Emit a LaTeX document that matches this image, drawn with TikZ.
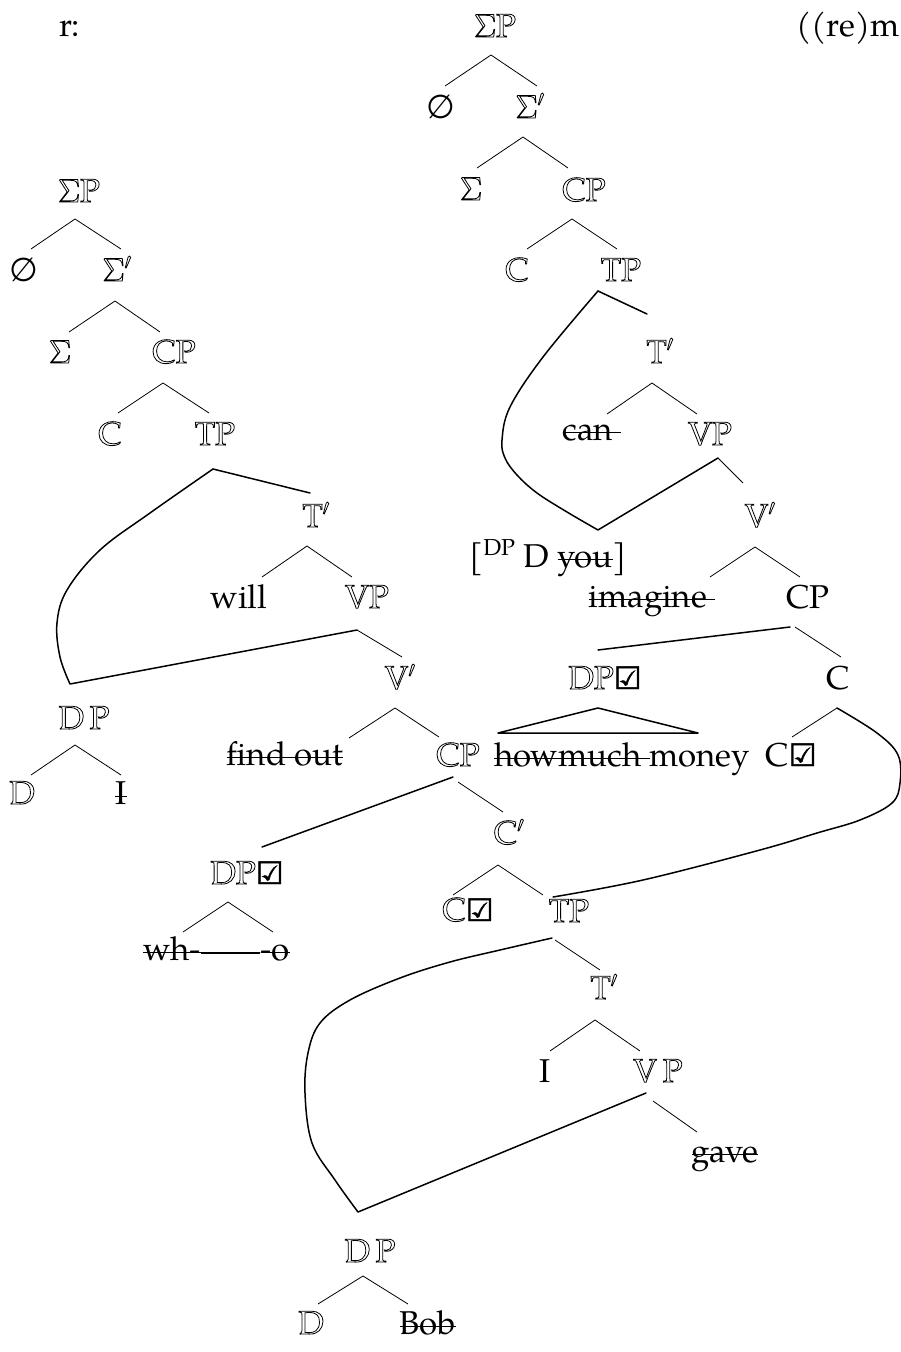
\RequirePackage{fix-cm}
\documentclass[tikz,border=0pt]{standalone}
\usepackage{fontspec}
\setmainfont{TeX Gyre Pagella}
\newfontfamily\dvs{DejaVu Sans}
\newfontfamily\dvsb[FakeBold=1.5]{DejaVu Sans}
\usetikzlibrary{calc}
\newsavebox\stkbox
\newcommand\stk[1]{\sbox\stkbox{#1}\rlap{\rule[0.21em]{\wd\stkbox}{1.3pt}}\usebox\stkbox}
\newcommand\ol[1]{\special{pdf:literal direct 1 Tr 0.8 w}#1\special{pdf:literal direct 0 Tr}}
\newcommand\chk{{\dvsb\fontsize{31}{31}\selectfont ☑}}
\newcommand\nul{{\dvs ∅}}
\begin{document}
\begin{tikzpicture}[x=1pt,y=-1pt,
  every node/.style={inner sep=0pt,anchor=base,font=\fontsize{33}{40}\selectfont},
  br/.style={line width=0.8pt},
  mv/.style={line width=1.5pt,line join=round,line cap=round},
  stkline/.style={line width=1.3pt}]
\useasboundingbox (0,0) rectangle (900,1352);

% header
\node[anchor=base west] (r) at (59,36) {r:};
\node[anchor=base east] (re) at (900,36) {((re)m};

% ---------- right tree ----------
\node (R0) at (495,37) {\ol{$\Sigma$P}};
\node (Rnull) at (441,118) {\nul};
\node (Rs1) at (530,118) {\ol{$\Sigma'$}};
\node (Rsig) at (471,200) {\ol{$\Sigma$}};
\node (Rcp) at (584,201) {\ol{CP}};
\node (Rc) at (517,281) {\ol{C}};
\node (Rtp) at (621,281) {\ol{TP}};
\node (Rtb) at (660,363) {\ol{T$'$}};
\node (Rcan) at (592,440) {\stk{can\ }};
\node (Rvp) at (710,445) {\ol{VP}};
\node (Rvb) at (760,527) {\ol{V$'$}};
\node (Ryou) at (548,567) {[\textsuperscript{DP} D \stk{you}]};
\node (Rimag) at (652,607) {\stk{imagine\ }};
\node (Rcp2) at (808,608) {CP};
\node (Rdp) at (605,689) {\ol{DP}\chk};
\node (Rc2) at (838,689) {C};
\node (Rmoney) at (622,766) {\stk{howmuch\ }money};
\node (Rcc) at (791,766) {C\chk};

\coordinate (R0-a) at (491,55);
\coordinate (Rnull-t) at (445,86);
\coordinate (Rs1-t) at (537,86);
\coordinate (Rs1-a) at (523,137);
\coordinate (Rsig-t) at (477,168);
\coordinate (Rcp-t) at (568,168);
\coordinate (Rcp-a) at (572,219);
\coordinate (Rc-t) at (527,249);
\coordinate (Rtp-t) at (617,249);
\coordinate (Rtp-a) at (598,291);
\coordinate (Rtb-t) at (647,314);
\coordinate (Rtb-a) at (652,383);
\coordinate (Rcan-t) at (607,414);
\coordinate (Rvp-t) at (697,414);
\coordinate (Rvp-a) at (718,458);
\coordinate (Rvb-t) at (743,483);
\coordinate (Rvb-a) at (755,547);
\coordinate (Ryou-t) at (598,530);
\coordinate (Rimag-t) at (710,577);
\coordinate (Rcp2-t) at (800,577);
\coordinate (Rcp2-a) at (790,627);
\coordinate (Rcp2-b) at (795,627);
\coordinate (Rdp-t) at (598,650);
\coordinate (Rdp-a) at (598,708);
\coordinate (Rc2-t) at (841,657);
\coordinate (Rc2-a) at (837,708);
\coordinate (Rmoney-l) at (498,733);
\coordinate (Rmoney-r) at (698,733);
\coordinate (Rcc-t) at (792,737);

\draw[br] (R0-a) -- (Rnull-t);
\draw[br] (R0-a) -- (Rs1-t);
\draw[br] (Rs1-a) -- (Rsig-t);
\draw[br] (Rs1-a) -- (Rcp-t);
\draw[br] (Rcp-a) -- (Rc-t);
\draw[br] (Rcp-a) -- (Rtp-t);
\draw[mv] (Rtp-a) -- (Rtb-t);
\draw[br] (Rtb-a) -- (Rcan-t);
\draw[br] (Rtb-a) -- (Rvp-t);
\draw[br] (Rvp-a) -- (Rvb-t);
\draw[mv] plot[smooth,tension=0.6] coordinates {(Rtp-a) (543,357) (510,407) (502,440) (505,458) (517,475) (537,493) (567,512) (Ryou-t)} -- (Rvp-a);
\draw[br] (Rvb-a) -- (Rimag-t);
\draw[br] (Rvb-a) -- (Rcp2-t);
\draw[mv] (Rcp2-a) -- (Rdp-t);
\draw[br] (Rcp2-b) -- (Rc2-t);
\draw[mv] (Rdp-a) -- (Rmoney-r) -- (Rmoney-l) -- cycle;
\draw[br] (Rc2-a) -- (Rcc-t);

% ---------- left tree ----------
\node (L0) at (79,202) {\ol{$\Sigma$P}};
\node (Lnull) at (24,281) {\nul};
\node (Ls1) at (117,281) {\ol{$\Sigma'$}};
\node (Lsig) at (60,363) {\ol{$\Sigma$}};
\node (Lcp) at (174,363) {\ol{CP}};
\node (Lc) at (110,445) {\ol{C}};
\node (Ltp) at (215,445) {\ol{TP}};
\node (Ltb) at (316,527) {\ol{T$'$}};
\node (Lwill) at (239,608) {will};
\node (Lvp) at (367,608) {\ol{VP}};
\node (Lvb) at (400,689) {\ol{V$'$}};
\node (Ldp) at (84,729) {\ol{D\,P}};
\node (Ld) at (22,804) {\ol{D}};
\node (Li) at (121,804) {\stk{I}};
\node (Lfind) at (285,765) {\stk{find out}};
\node (Lcp2) at (458,766) {\ol{CP}};
\node (Lcb) at (509,844) {\ol{C$'$}};
\node (Ldpc) at (247,884) {\ol{DP}\chk};
\node (Lwh) at (172,960) {\stk{wh-}};
\node (Lo) at (275,960) {\stk{-o}};
\node (Lcc) at (468,921) {\ol{C}\chk};
\node (Ltp2) at (569,922) {\ol{TP}};
\node (Ltb2) at (604,999) {\ol{T$'$}};
\node (LI) at (545,1082) {I};
\node (Lvp2) at (658,1082) {\ol{V\,P}};
\node (Lgave) at (725,1162) {\stk{gave}};
\node (Ldp2) at (370,1262) {\ol{D\,P}};
\node (Ld2) at (311,1334) {\ol{D}};
\node (Lbob) at (428,1334) {\stk{Bob}};

\coordinate (L0-a) at (75,219);
\coordinate (Lnull-t) at (31,249);
\coordinate (Ls1-t) at (121,249);
\coordinate (Ls1-a) at (115,301);
\coordinate (Lsig-t) at (69,332);
\coordinate (Lcp-t) at (160,332);
\coordinate (Lcp-a) at (163,383);
\coordinate (Lc-t) at (118,413);
\coordinate (Ltp-t) at (209,413);
\coordinate (Ltp-a) at (213,469);
\coordinate (Ltb-t) at (310,493);
\coordinate (Ltb-a) at (307,546);
\coordinate (Lwill-t) at (262,577);
\coordinate (Lvp-t) at (352,577);
\coordinate (Lvp-a) at (357,630);
\coordinate (Lvb-t) at (402,657);
\coordinate (Lvb-a) at (395,708);
\coordinate (Ldp-t) at (70,684);
\coordinate (Ldp-a) at (75,745);
\coordinate (Ld-t) at (31,775);
\coordinate (Li-t) at (121,775);
\coordinate (Lfind-t) at (349,738);
\coordinate (Lcp2-t) at (439,737);
\coordinate (Lcp2-a) at (453,777);
\coordinate (Lcp2-b) at (458,782);
\coordinate (Lcb-t) at (503,812);
\coordinate (Lcb-a) at (498,865);
\coordinate (Ldpc-t) at (262,847);
\coordinate (Ldpc-a) at (228,902);
\coordinate (Lwh-t) at (183,932);
\coordinate (Lo-t) at (273,932);
\coordinate (Lcc-t) at (453,895);
\coordinate (Ltp2-t) at (543,895);
\coordinate (Ltp2-m) at (553,897);
\coordinate (Ltp2-a) at (552,938);
\coordinate (Ltp2-b) at (555,940);
\coordinate (Ltb2-t) at (600,970);
\coordinate (Ltb2-a) at (595,1020);
\coordinate (LI-t) at (550,1051);
\coordinate (Lvp2-t) at (640,1051);
\coordinate (Lvp2-a) at (646,1093);
\coordinate (Lvp2-b) at (653,1101);
\coordinate (Lgave-t) at (697,1132);
\coordinate (Ldp2-t) at (358,1212);
\coordinate (Ldp2-a) at (363,1276);
\coordinate (Ld2-t) at (318,1304);
\coordinate (Lbob-t) at (408,1304);

\draw[br] (L0-a) -- (Lnull-t);
\draw[br] (L0-a) -- (Ls1-t);
\draw[br] (Ls1-a) -- (Lsig-t);
\draw[br] (Ls1-a) -- (Lcp-t);
\draw[br] (Lcp-a) -- (Lc-t);
\draw[br] (Lcp-a) -- (Ltp-t);
\draw[mv] (Ltp-a) -- (Ltb-t);
\draw[mv] plot[smooth,tension=0.6] coordinates {(Ltp-a) (150,513) (100,550) (67,590) (57,623) (60,657) (Ldp-t)} -- (Lvp-a);
\draw[br] (Ltb-a) -- (Lwill-t);
\draw[br] (Ltb-a) -- (Lvp-t);
\draw[br] (Lvp-a) -- (Lvb-t);
\draw[br] (Lvb-a) -- (Lfind-t);
\draw[br] (Lvb-a) -- (Lcp2-t);
\draw[br] (Ldp-a) -- (Ld-t);
\draw[br] (Ldp-a) -- (Li-t);
\draw[mv] (Lcp2-a) -- (Ldpc-t);
\draw[br] (Lcp2-b) -- (Lcb-t);
\draw[br] (Ldpc-a) -- (Lwh-t);
\draw[br] (Ldpc-a) -- (Lo-t);
\draw[stkline] ([yshift=6.9pt]Lwh.base east) -- ([yshift=6.9pt]Lo.base west);
\draw[br] (Lcb-a) -- (Lcc-t);
\draw[br] (Lcb-a) -- (Ltp2-t);
\draw[mv] plot[smooth,tension=0.6] coordinates {(Rc2-a) (877,733) (898,755) (900,783) (892,803) (860,820) (817,833) (760,850) (643,880) (Ltp2-m)};
\draw[br] (Ltp2-b) -- (Ltb2-t);
\draw[mv] plot[smooth,tension=0.6] coordinates {(Ltp2-a) (500,950) (450,962) (400,978) (350,1000) (320,1023) (308,1053) (305,1093) (312,1143) (335,1180) (Ldp2-t)} -- (Lvp2-a);
\draw[br] (Ltb2-a) -- (LI-t);
\draw[br] (Ltb2-a) -- (Lvp2-t);
\draw[br] (Lvp2-b) -- (Lgave-t);
\draw[br] (Ldp2-a) -- (Ld2-t);
\draw[br] (Ldp2-a) -- (Lbob-t);
\end{tikzpicture}
\end{document}
